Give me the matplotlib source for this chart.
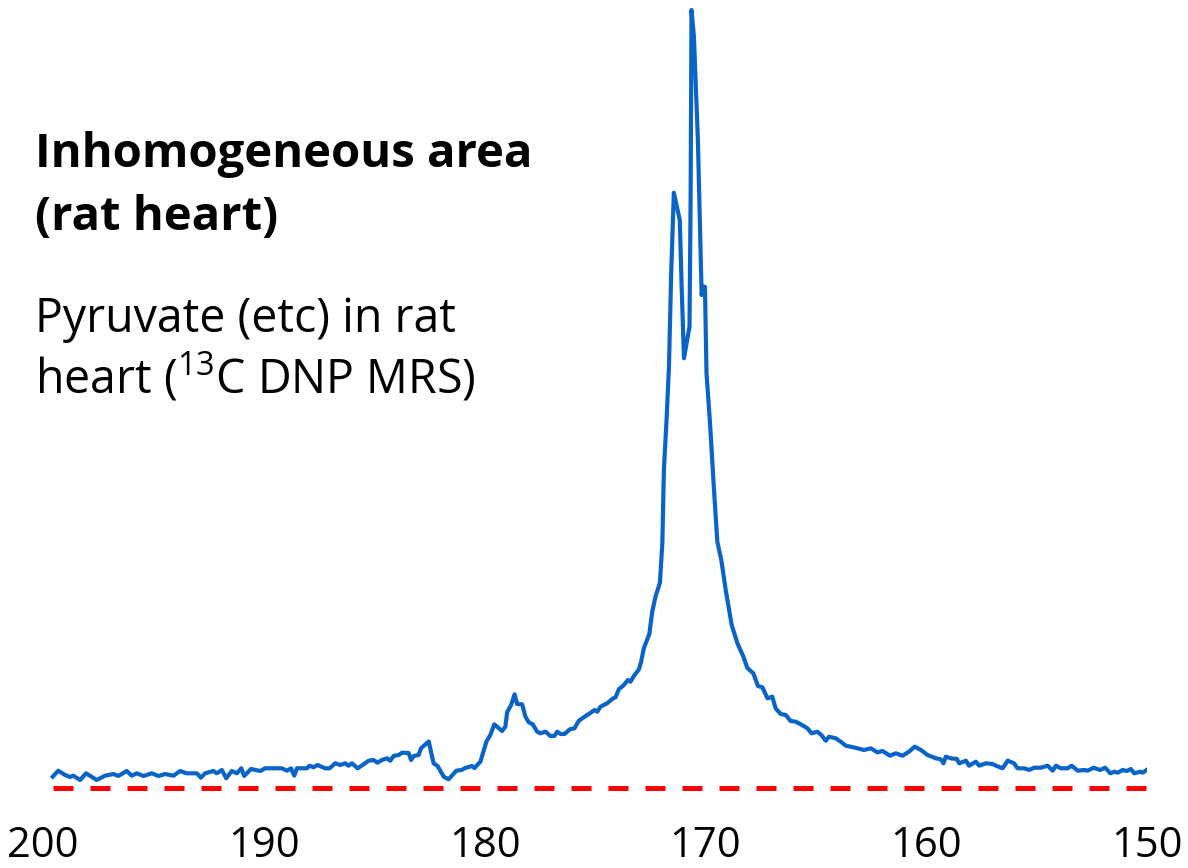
import numpy as np
import matplotlib
matplotlib.use("Agg")
import matplotlib.pyplot as plt

# 13C DNP MR spectrum, rat heart (ppm, arbitrary intensity units)
ppm = [
    199.56, 199.31, 199.00, 198.78, 198.63, 198.32, 198.05, 197.57, 197.19, 196.81,
    196.59, 196.21, 195.98, 195.75, 195.45, 195.07, 194.77, 194.47, 194.09, 193.79,
    193.49, 193.03, 192.85, 192.66, 192.28, 192.13, 191.90, 191.70, 191.45, 191.22,
    191.02, 190.89, 190.58, 190.16, 189.94, 189.18, 188.95, 188.77, 188.62, 188.50,
    188.05, 187.93, 187.75, 187.57, 187.22, 187.02, 186.76, 186.54, 186.31, 186.16,
    186.01, 185.75, 185.48, 185.25, 185.03, 184.85, 184.65, 184.42, 184.27, 184.12,
    183.89, 183.74, 183.44, 183.33, 183.21, 182.99, 182.88, 182.53, 182.31, 182.13,
    181.85, 181.63, 181.28, 181.05, 180.87, 180.57, 180.46, 180.19, 179.92, 179.74,
    179.56, 179.21, 179.06, 178.98, 178.80, 178.64, 178.53, 178.30, 178.15, 178.00,
    177.82, 177.62, 177.47, 177.24, 177.02, 176.84, 176.71, 176.56, 176.38, 176.14,
    175.93, 175.73, 175.51, 175.28, 175.02, 174.90, 174.75, 174.45, 174.18, 174.07,
    173.92, 173.69, 173.51, 173.39, 173.24, 173.01, 172.91, 172.79, 172.54, 172.41,
    172.26, 172.06, 171.95, 171.88, 171.76, 171.65, 171.55, 171.43, 171.16, 171.08,
    170.97, 170.72, 170.67, 170.63, 170.52, 170.34, 170.17, 170.11, 170.02, 169.95,
    169.80, 169.61, 169.46, 169.28, 169.08, 168.81, 168.55, 168.28, 168.10, 167.83,
    167.62, 167.42, 167.19, 166.97, 166.82, 166.59, 166.36, 166.14, 165.91, 165.68,
    165.38, 165.19, 164.93, 164.75, 164.55, 164.40, 164.10, 163.87, 163.64, 163.42,
    163.11, 162.82, 162.51, 162.21, 161.98, 161.64, 161.38, 161.07, 160.78, 160.52,
    160.24, 159.94, 159.56, 159.34, 159.22, 159.11, 158.89, 158.61, 158.51, 158.20,
    158.06, 157.75, 157.60, 157.30, 156.99, 156.84, 156.54, 156.31, 156.02, 155.86,
    155.56, 155.34, 155.11, 154.81, 154.50, 154.27, 154.13, 153.90, 153.59, 153.41,
    153.14, 152.84, 152.69, 152.42, 152.12, 151.90, 151.66, 151.48, 151.33, 151.10,
    150.91, 150.73, 150.58, 150.30, 150.20, 149.90, 149.67,
]
signal = [
    1.13, 1.73, 1.30, 1.10, 1.23, 0.80, 1.47, 0.80, 1.23, 1.40,
    1.20, 1.70, 1.23, 1.47, 1.20, 1.47, 1.20, 1.40, 1.23, 1.70,
    1.47, 1.47, 1.03, 1.47, 1.70, 1.47, 1.80, 0.97, 1.70, 1.47,
    1.97, 1.20, 1.90, 1.70, 1.97, 1.97, 1.73, 1.97, 1.23, 1.97,
    1.97, 2.23, 2.07, 2.30, 1.97, 1.97, 2.47, 2.30, 2.47, 2.23,
    2.47, 1.97, 2.37, 2.73, 2.80, 2.53, 2.80, 2.97, 2.73, 3.20,
    3.30, 3.53, 3.50, 2.80, 3.20, 3.30, 3.97, 4.65, 2.47, 2.20,
    1.13, 0.87, 1.73, 1.80, 2.00, 2.20, 2.00, 2.63, 4.63, 5.30,
    6.37, 5.70, 6.13, 7.57, 8.30, 9.37, 8.40, 8.37, 7.13, 6.57,
    6.37, 5.63, 5.47, 5.63, 5.20, 5.20, 5.63, 5.40, 5.40, 5.87,
    5.97, 6.73, 7.07, 7.40, 7.80, 7.63, 8.13, 8.47, 8.97, 9.07,
    9.87, 10.30, 10.80, 10.63, 11.20, 11.87, 12.63, 13.97, 15.40, 17.60,
    19.13, 20.53, 24.47, 31.80, 36.80, 42.13, 51.47, 59.53, 56.80, 50.47,
    42.97, 46.13, 58.80, 77.80, 75.13, 64.80, 49.30, 50.13, 50.13, 41.47,
    36.80, 29.80, 24.63, 22.80, 19.80, 16.30, 14.47, 13.13, 12.00, 11.47,
    10.20, 10.07, 8.97, 9.13, 7.97, 7.40, 7.30, 6.70, 6.63, 6.37,
    5.97, 5.47, 5.63, 5.30, 4.73, 5.13, 4.97, 4.63, 4.23, 4.13,
    3.97, 3.80, 3.97, 3.57, 3.70, 3.23, 3.47, 3.23, 3.63, 4.13,
    3.80, 3.30, 2.97, 2.87, 2.47, 3.13, 2.97, 2.90, 2.47, 2.73,
    2.23, 2.63, 2.23, 2.47, 2.40, 2.23, 1.97, 2.73, 2.47, 1.97,
    1.97, 1.80, 2.03, 2.03, 2.23, 1.73, 2.23, 1.97, 1.97, 2.23,
    1.73, 1.80, 1.73, 2.03, 1.80, 2.03, 1.47, 1.63, 1.53, 1.80,
    1.70, 1.90, 1.47, 1.63, 1.53, 1.97, 1.73,
]
xticks = [200, 190, 180, 170, 160, 150]

title_lines = ["Inhomogeneous area", "(rat heart)"]
desc_lines = ["Pyruvate (etc) in rat", r"heart ($^{\mathregular{13}}$C DNP MRS)"]

plt.rcParams['font.family'] = ['Open Sans', 'DejaVu Sans']
plt.rcParams['mathtext.fontset'] = 'custom'
plt.rcParams['mathtext.rm'] = 'Open Sans'

fig = plt.figure(figsize=(11.88, 8.68), dpi=100)
ax = fig.add_axes([43 / 1188, 68 / 868, (1147 - 43) / 1188, 800 / 868])

ax.plot(ppm, signal, color='#0a64c8', lw=3.0, solid_joinstyle='round')
# zero baseline across the acquired range
ax.plot([ppm[0], ppm[-1]], [0, 0], color='#ff0000', lw=3.6, dashes=(4.0, 3.4))

ax.set_xlim(200, 150)
ax.set_ylim(-1.2, 78.8)
ax.set_xticks(xticks)
ax.set_xticklabels([str(t) for t in xticks], fontsize=30)
ax.tick_params(axis='x', length=0, pad=18)
ax.set_yticks([])
for s in ax.spines.values():
    s.set_visible(False)

# annotation text block, top left
for y, line in zip([167, 230], title_lines):
    fig.text(35 / 1188, 1 - y / 868, line, fontsize=34,
             fontweight='bold', va='baseline', ha='left')
for y, line in zip([332, 392], desc_lines):
    fig.text(35 / 1188, 1 - y / 868, line, fontsize=33.5,
             va='baseline', ha='left')

fig.savefig('out.png', dpi=100)
